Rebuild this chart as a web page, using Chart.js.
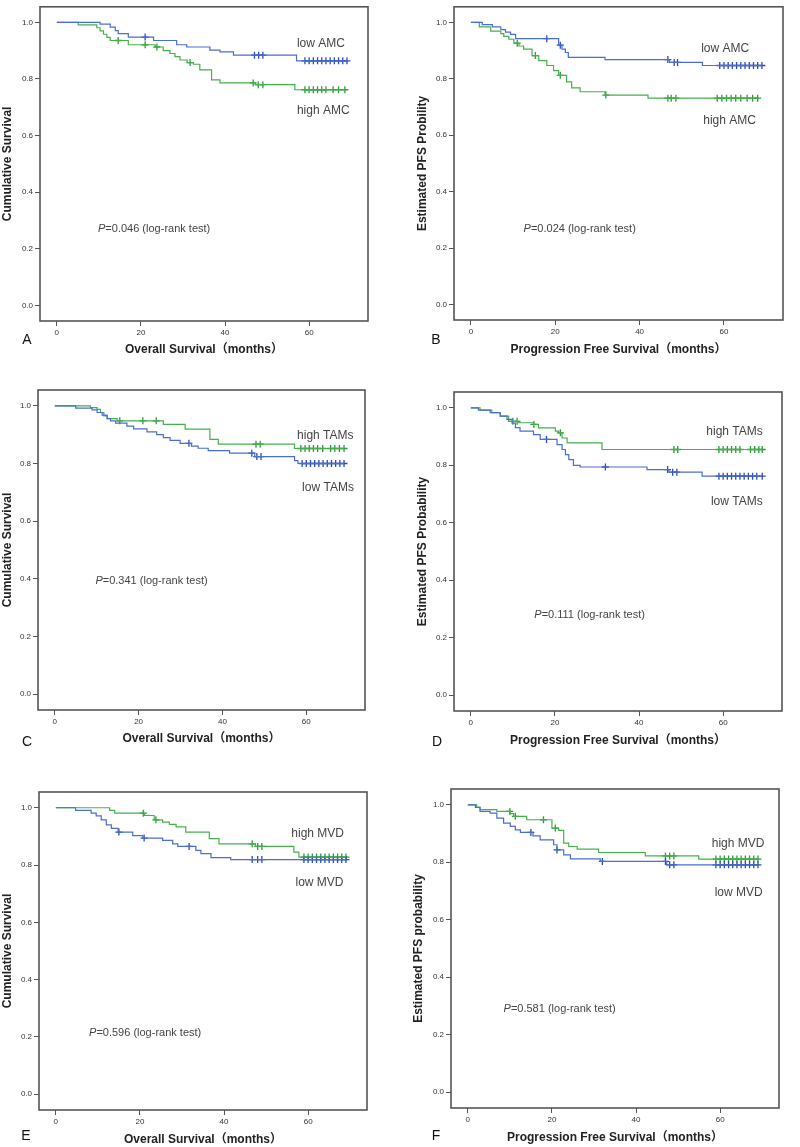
<!DOCTYPE html>
<html>
<head>
<meta charset="utf-8">
<script src="https://cdn.jsdelivr.net/npm/chart.js@4"></script>
<style>
  body { margin: 0; background: #fff; width: 800px; height: 1147px; position: relative; overflow: hidden; }
  canvas { position: absolute; }
</style>
</head>
<body>
<script>
// eixos comuns
const monthTicks = [0, 20, 40, 60];
const survTicks = [0, 0.2, 0.4, 0.6, 0.8, 1.0];

// A - overall survival, AMC
const aLowT  = [0, 10.3, 12.7, 13.9, 14.6, 17.0, 23.0, 28.5, 30.9, 36.4, 38.8, 42.0, 57.0];
const aLowS  = [1, 0.994, 0.983, 0.971, 0.960, 0.948, 0.936, 0.921, 0.913, 0.902, 0.896, 0.884, 0.864];
const aLowCens  = [21, 47, 48, 49, 59, 60, 61, 62, 63, 64, 65, 66, 67, 68, 69];
const aHighT = [0, 5.1, 9.5, 10.3, 11.1, 11.9, 12.7, 17.0, 23.4, 25.3, 26.9, 28.1, 29.3, 31.0, 32.5, 34.0, 36.8, 38.8, 47.2, 56.6];
const aHighS = [1, 0.991, 0.981, 0.970, 0.958, 0.947, 0.936, 0.921, 0.913, 0.900, 0.890, 0.879, 0.867, 0.858, 0.852, 0.832, 0.797, 0.786, 0.780, 0.762];
const aHighCens = [14.6, 21, 23.8, 31.7, 46.7, 47.9, 49, 59, 60, 61, 62, 63, 64, 65.7, 67, 68.5];

// B - PFS, AMC
const bLowT  = [0, 2.7, 5.1, 7.1, 8.2, 9.4, 10.6, 20.8, 21.6, 22.4, 23.1, 31.8, 47.1, 54.9];
const bLowS  = [1, 0.992, 0.984, 0.974, 0.965, 0.957, 0.942, 0.919, 0.905, 0.893, 0.876, 0.868, 0.858, 0.847];
const bLowCens  = [18, 21.2, 46.7, 48.2, 49, 59, 60, 61, 62, 63, 64, 65, 66, 67, 68, 69];
const bHighT = [0, 2.0, 4.7, 7.1, 7.8, 9.0, 10.2, 11.4, 12.5, 14.5, 16.1, 18.0, 19.6, 20.8, 22.7, 23.9, 25.9, 31.8, 42.0];
const bHighS = [1, 0.984, 0.969, 0.960, 0.950, 0.940, 0.926, 0.916, 0.905, 0.882, 0.864, 0.847, 0.829, 0.812, 0.789, 0.768, 0.754, 0.742, 0.731];
const bHighCens = [11, 15.3, 21.2, 32, 46.7, 47.5, 48.6, 58.4, 59.5, 60.6, 61.7, 62.8, 64, 65.5, 66.8, 68];

// C - overall survival, TAMs
const cLowT  = [0, 5.0, 8.9, 10.1, 11.3, 12.5, 13.3, 14.5, 17.2, 18.8, 22.0, 24.3, 25.9, 27.5, 29.9, 32.6, 34.2, 36.6, 41.7, 47.7, 57.2, 58.0];
const cLowS  = [1, 0.992, 0.986, 0.977, 0.968, 0.956, 0.948, 0.940, 0.930, 0.920, 0.910, 0.900, 0.890, 0.880, 0.870, 0.860, 0.853, 0.845, 0.836, 0.824, 0.810, 0.800];
const cLowCens  = [32, 47, 48.2, 49.2, 59, 60, 61, 62, 63, 64, 65, 66, 67, 68, 69];
const cHighT = [0, 8.5, 10.1, 10.9, 11.7, 12.5, 14.9, 25.9, 31.1, 37.0, 39.0, 57.2];
const cHighS = [1, 0.994, 0.988, 0.977, 0.965, 0.956, 0.948, 0.936, 0.919, 0.884, 0.867, 0.852];
const cHighCens = [15.5, 21, 24.2, 48, 49, 58.7, 59.7, 60.7, 61.7, 62.7, 63.9, 65.8, 66.8, 67.9, 69];

// D - PFS, TAMs
const dLowT  = [0, 1.8, 4.6, 7.0, 8.6, 9.8, 10.6, 11.7, 14.9, 16.5, 20.5, 21.7, 22.5, 23.3, 24.4, 26.0, 41.9, 47.1, 55.0];
const dLowS  = [1, 0.992, 0.983, 0.971, 0.960, 0.947, 0.931, 0.919, 0.907, 0.890, 0.872, 0.855, 0.837, 0.820, 0.800, 0.794, 0.785, 0.776, 0.762];
const dLowCens  = [18, 32, 46.8, 48, 49, 59, 60, 61, 62, 63, 64, 65, 66, 67, 68, 69.3];
const dHighT = [0, 2.2, 5.0, 7.0, 9.0, 11.3, 14.9, 16.1, 20.1, 20.9, 21.7, 22.9, 31.2];
const dHighS = [1, 0.992, 0.983, 0.971, 0.953, 0.948, 0.942, 0.930, 0.919, 0.913, 0.895, 0.878, 0.855];
const dHighCens = [10, 11, 15, 21.3, 48.3, 49.2, 59, 60, 61, 62, 63, 64, 66.5, 67.5, 68.5, 69.3];

// E - overall survival, MVD
const eLowT  = [0, 4.7, 8.4, 9.6, 10.8, 12.0, 13.2, 14.8, 18.3, 20.7, 25.4, 27.8, 29.0, 33.3, 34.5, 36.9, 41.6];
const eLowS  = [1, 0.991, 0.981, 0.972, 0.958, 0.940, 0.928, 0.915, 0.903, 0.894, 0.886, 0.874, 0.865, 0.851, 0.840, 0.826, 0.819];
const eLowCens  = [15, 21, 31.7, 46.7, 48, 49, 59, 60, 61, 62, 63, 64, 65, 66, 67, 68, 69];
const eHighT = [0, 12.8, 14.0, 21.1, 23.4, 25.4, 27.0, 28.6, 30.9, 36.5, 38.8, 47.5, 56.6, 57.8];
const eHighS = [1, 0.991, 0.981, 0.973, 0.958, 0.950, 0.942, 0.933, 0.915, 0.892, 0.874, 0.865, 0.845, 0.828];
const eHighCens = [20.8, 23.8, 46.7, 48, 49, 59, 60, 61, 62, 63, 64, 65, 66, 67, 68, 69];

// F - PFS, MVD
const fLowT  = [0, 1.8, 2.9, 5.3, 6.9, 8.5, 10.1, 11.3, 12.5, 15.5, 17.2, 20.4, 21.2, 22.8, 24.4, 31.5, 47.3];
const fLowS  = [1, 0.991, 0.977, 0.971, 0.954, 0.936, 0.925, 0.913, 0.904, 0.892, 0.878, 0.861, 0.843, 0.826, 0.812, 0.803, 0.791];
const fLowCens  = [15, 21.2, 32, 47, 48, 49, 59, 60, 61, 62, 63, 64, 65, 66, 67, 68, 69];
const fHighT = [0, 2.1, 2.9, 6.9, 10.1, 10.9, 14.0, 20.0, 21.6, 22.8, 24.0, 26.0, 31.1, 42.2, 54.9];
const fHighS = [1, 0.991, 0.983, 0.977, 0.969, 0.960, 0.948, 0.919, 0.911, 0.867, 0.855, 0.846, 0.834, 0.822, 0.811];
const fHighCens = [10, 11.3, 18, 20.8, 47, 48, 49, 59, 60, 61, 62, 63, 64, 65, 66, 67, 68, 69];

const FONT = '"Liberation Sans", Arial, "Noto Sans CJK SC", sans-serif';
const BLUE = '#4a6ed2', BLUE_DK = '#2c4cb4';
const GREEN = '#46b04c', GREEN_DK = '#2f9c3a';
const TITLE_HALF = 7.2; // metade da altura de linha do título (12px * 1.2 / 2)

// valor da curva num tempo (degrau)
function survAt(T, S, t) {
  let v = S[0];
  for (let i = 0; i < T.length; i++) if (T[i] <= t) v = S[i];
  return v;
}
function curvePts(T, S, C) {
  const pts = T.map((t, i) => ({ x: t, y: S[i] }));
  const end = Math.max(T[T.length - 1], C[C.length - 1]);
  pts.push({ x: end, y: S[S.length - 1] });
  return pts;
}
function censPts(T, S, C) {
  return C.map(t => ({ x: t, y: survAt(T, S, t) }));
}

// moldura, rótulos internos e letra do painel
const panelText = {
  id: 'panelText',
  afterDraw(chart, args, o) {
    const { ctx, chartArea: a, scales: { x, y } } = chart;
    ctx.save();
    ctx.strokeStyle = '#555';
    ctx.lineWidth = 1.6;
    ctx.strokeRect(a.left, a.top, a.right - a.left, a.bottom - a.top);
    ctx.fillStyle = '#444';
    ctx.textBaseline = 'middle';
    ctx.textAlign = 'left';
    ctx.font = '12px ' + FONT;
    o.notes.forEach(n => ctx.fillText(n[0], x.getPixelForValue(n[1]), y.getPixelForValue(n[2])));
    let px = x.getPixelForValue(o.p[1]);
    const py = y.getPixelForValue(o.p[2]);
    ctx.font = 'italic 11px ' + FONT;
    ctx.fillText('P', px, py);
    px += ctx.measureText('P').width;
    ctx.font = '11px ' + FONT;
    ctx.fillText('=' + o.p[0] + ' (log-rank test)', px, py);
    ctx.fillStyle = '#111';
    ctx.textAlign = 'center';
    ctx.font = '14px ' + FONT;
    ctx.fillText(o.letter, o.lx - chart.canvas.offsetLeft, o.ly - chart.canvas.offsetTop);
    ctx.restore();
  }
};

function makePanel(p) {
  const [bx, by, bw, bh] = p.box;
  const [l, t, r, b] = p.area;
  const cv = document.createElement('canvas');
  cv.width = bw; cv.height = bh;
  cv.style.left = bx + 'px'; cv.style.top = by + 'px';
  document.body.appendChild(cv);

  new Chart(cv, {
    type: 'line',
    data: {
      datasets: [
        { data: curvePts(p.lowT, p.lowS, p.lowC), borderColor: BLUE, borderWidth: 1.2, stepped: true, pointRadius: 0, fill: false },
        { data: curvePts(p.highT, p.highS, p.highC), borderColor: GREEN, borderWidth: 1.2, stepped: true, pointRadius: 0, fill: false },
        { data: censPts(p.lowT, p.lowS, p.lowC), showLine: false, pointStyle: 'cross', pointRadius: 3.5, borderColor: BLUE_DK, borderWidth: 1.3 },
        { data: censPts(p.highT, p.highS, p.highC), showLine: false, pointStyle: 'cross', pointRadius: 3.5, borderColor: GREEN_DK, borderWidth: 1.3 }
      ]
    },
    options: {
      responsive: false,
      animation: false,
      layout: { autoPadding: false, padding: { left: 0, top: t - by, right: bx + bw - r, bottom: 0 } },
      plugins: {
        legend: { display: false },
        tooltip: { enabled: false },
        panelText: { notes: p.notes, p: p.pval, letter: p.letter, lx: p.letterPos[0], ly: p.letterPos[1] }
      },
      scales: {
        x: {
          type: 'linear', min: -4, max: 74,
          afterBuildTicks: s => { s.ticks = monthTicks.map(v => ({ value: v })); },
          afterFit: s => { s.height = by + bh - b; },
          border: { display: false },
          grid: { drawOnChartArea: false, tickLength: 5, color: '#555', lineWidth: 1 },
          ticks: { font: { family: FONT, size: 8 }, color: '#333', padding: 2, maxRotation: 0 },
          title: { display: true, text: p.xTitle, color: '#222', font: { family: FONT, size: 12, weight: 'bold' },
                   padding: { top: 0, bottom: Math.max(0, by + bh - p.xTitleY - TITLE_HALF) } }
        },
        y: {
          type: 'linear', min: -0.055, max: 1.055,
          afterBuildTicks: s => { s.ticks = survTicks.map(v => ({ value: v })); },
          afterFit: s => { s.width = l - bx; },
          border: { display: false },
          grid: { drawOnChartArea: false, tickLength: 5, color: '#555', lineWidth: 1 },
          ticks: { font: { family: FONT, size: 8 }, color: '#333', padding: 2, callback: v => v.toFixed(1) },
          title: { display: true, text: p.yTitle, color: '#222', font: { family: FONT, size: 12, weight: 'bold' },
                   padding: { top: Math.max(0, p.yTitleX - bx - TITLE_HALF), bottom: 0 } }
        }
      }
    },
    plugins: [panelText]
  });
}

const osTitle = 'Overall Survival（months）';
const pfsTitle = 'Progression Free Survival（months）';

makePanel({ box: [0, 0, 400, 372], area: [40, 1, 368, 321], yTitleX: 8, xTitleY: 350,
  yTitle: 'Cumulative Survival', xTitle: osTitle, letter: 'A', letterPos: [27, 340],
  lowT: aLowT, lowS: aLowS, lowC: aLowCens, highT: aHighT, highS: aHighS, highC: aHighCens,
  notes: [['low AMC', 57.1, 0.926], ['high AMC', 57.1, 0.687]], pval: ['0.046', 9.8, 0.27] });

makePanel({ box: [400, 0, 400, 372], area: [454, 1, 783, 320], yTitleX: 423, xTitleY: 350,
  yTitle: 'Estimated PFS Probility', xTitle: pfsTitle, letter: 'B', letterPos: [436, 340],
  lowT: bLowT, lowS: bLowS, lowC: bLowCens, highT: bHighT, highS: bHighS, highC: bHighCens,
  notes: [['low AMC', 54.6, 0.905], ['high AMC', 55.1, 0.651]], pval: ['0.024', 12.5, 0.268] });

makePanel({ box: [0, 376, 400, 380], area: [38, 390, 365, 710], yTitleX: 7.2, xTitleY: 739,
  yTitle: 'Cumulative Survival', xTitle: osTitle, letter: 'C', letterPos: [27, 742],
  lowT: cLowT, lowS: cLowS, lowC: cLowCens, highT: cHighT, highS: cHighS, highC: cHighCens,
  notes: [['high TAMs', 57.8, 0.898], ['low TAMs', 59.0, 0.715]], pval: ['0.341', 9.7, 0.393] });

makePanel({ box: [400, 376, 400, 380], area: [454, 392, 782, 711], yTitleX: 422.3, xTitleY: 740.7,
  yTitle: 'Estimated PFS Probability', xTitle: pfsTitle, letter: 'D', letterPos: [437, 742],
  lowT: dLowT, lowS: dLowS, lowC: dLowCens, highT: dHighT, highS: dHighS, highC: dHighCens,
  notes: [['high TAMs', 56.0, 0.918], ['low TAMs', 57.1, 0.673]], pval: ['0.111', 15.1, 0.279] });

makePanel({ box: [0, 760, 400, 387], area: [39, 792, 367, 1110], yTitleX: 7.5, xTitleY: 1140,
  yTitle: 'Cumulative Survival', xTitle: osTitle, letter: 'E', letterPos: [26, 1136],
  lowT: eLowT, lowS: eLowS, lowC: eLowCens, highT: eHighT, highS: eHighS, highC: eHighCens,
  notes: [['high MVD', 56.0, 0.910], ['low MVD', 57.0, 0.74]], pval: ['0.596', 7.9, 0.215] });

makePanel({ box: [400, 760, 400, 387], area: [451, 789, 779, 1108], yTitleX: 419, xTitleY: 1137.7,
  yTitle: 'Estimated PFS probability', xTitle: pfsTitle, letter: 'F', letterPos: [436, 1136],
  lowT: fLowT, lowS: fLowS, lowC: fLowCens, highT: fHighT, highS: fHighS, highC: fHighCens,
  notes: [['high MVD', 58.0, 0.863], ['low MVD', 58.7, 0.693]], pval: ['0.581', 8.5, 0.289] });
</script>
</body>
</html>
